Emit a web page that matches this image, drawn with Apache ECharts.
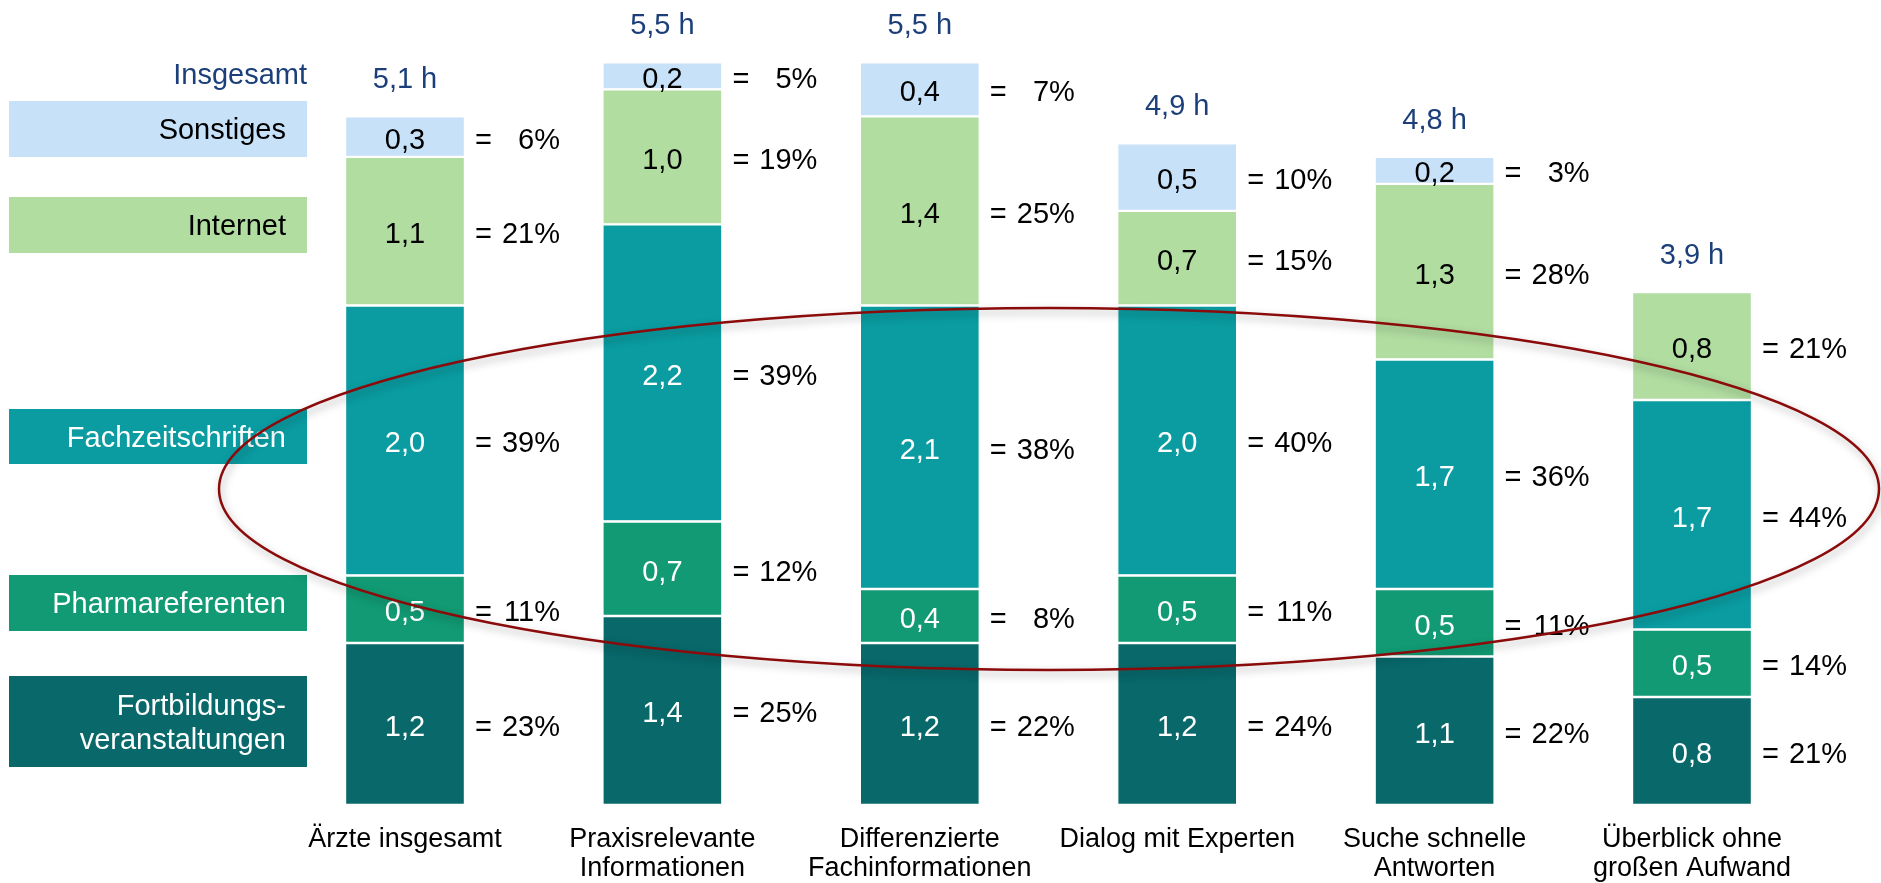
<!DOCTYPE html>
<html>
<head>
<meta charset="utf-8">
<script src="https://cdn.jsdelivr.net/npm/echarts@6/dist/echarts.min.js"></script>
<style>
html,body{margin:0;padding:0;background:#fff;}
#chart{width:1881px;height:883px;}
</style>
</head>
<body>
<div id="chart"></div>
<script>
// ---- data ----
var categories = ['Ärzte insgesamt', 'Praxisrelevante\nInformationen', 'Differenzierte\nFachinformationen', 'Dialog mit Experten', 'Suche schnelle\nAntworten', 'Überblick ohne\ngroßen Aufwand'];
var seriesNames = ['Fortbildungs-\nveranstaltungen', 'Pharmareferenten', 'Fachzeitschriften', 'Internet', 'Sonstiges'];
var fortbildung = [1.2, 1.4, 1.2, 1.2, 1.1, 0.8];
var pharma = [0.5, 0.7, 0.4, 0.5, 0.5, 0.5];
var fachzeitschriften = [2.0, 2.2, 2.1, 2.0, 1.7, 1.7];
var internet = [1.1, 1.0, 1.4, 0.7, 1.3, 0.8];
var sonstiges = [0.3, 0.2, 0.4, 0.5, 0.2, null];
var pctFortbildung = [23, 25, 22, 24, 22, 21];
var pctPharma = [11, 12, 8, 11, 11, 14];
var pctFachzeitschriften = [39, 39, 38, 40, 36, 44];
var pctInternet = [21, 19, 25, 15, 28, 21];
var pctSonstiges = [6, 5, 7, 10, 3, null];
var totals = ['5,1 h', '5,5 h', '5,5 h', '4,9 h', '4,8 h', '3,9 h'];
var totalLabel = 'Insgesamt';

// ---- styles ----
var colors = ['#08686A', '#119A73', '#0A9CA1', '#B1DDA1', '#C6E1F8'];
var valueTextColors = ['#ffffff', '#ffffff', '#ffffff', '#000000', '#000000'];
var FONT = "'Liberation Sans', Arial, sans-serif";
var BLUE = '#1C3F7A';

var valueSets = [fortbildung, pharma, fachzeitschriften, internet, sonstiges];
var pctSets = [pctFortbildung, pctPharma, pctFachzeitschriften, pctInternet, pctSonstiges];

function fmt(v) { return v.toFixed(1).replace('.', ','); }

var stackTops = categories.map(function (c, i) {
  var s = 0;
  valueSets.forEach(function (arr) { if (arr[i] != null) s += arr[i]; });
  return s;
});

var series = [];
valueSets.forEach(function (arr, k) {
  series.push({
    name: seriesNames[k],
    type: 'bar',
    stack: 'values',
    barWidth: 120,
    barGap: '-100%',
    data: arr,
    itemStyle: { color: colors[k], borderColor: '#ffffff', borderWidth: 1.2 },
    label: {
      show: true,
      position: 'inside',
      offset: [0, 4],
      fontFamily: FONT,
      fontSize: 29,
      color: valueTextColors[k],
      formatter: function (p) { return p.value == null ? '' : fmt(p.value); }
    },
    emphasis: { disabled: true },
    silent: true
  });
});
valueSets.forEach(function (arr, k) {
  var pcts = pctSets[k];
  series.push({
    name: seriesNames[k] + ' %',
    type: 'bar',
    stack: 'pct',
    barWidth: 120,
    barGap: '-100%',
    data: arr,
    itemStyle: { color: 'rgba(0,0,0,0)' },
    label: {
      show: true,
      position: 'right',
      distance: 10,
      offset: [0, 4],
      formatter: function (p) {
        var v = pcts[p.dataIndex];
        return v == null ? '' : '{e|=}{p|' + v + '%}';
      },
      rich: {
        e: { fontFamily: FONT, fontSize: 29, color: '#000', width: 17 },
        p: { fontFamily: FONT, fontSize: 29, color: '#000', width: 68, align: 'right' }
      }
    },
    emphasis: { disabled: true },
    silent: true,
    z: 3
  });
});
series.push({
  name: 'Insgesamt',
  type: 'scatter',
  data: stackTops,
  symbolSize: 1,
  itemStyle: { color: 'rgba(0,0,0,0)', opacity: 1 },
  label: {
    show: true,
    position: 'top',
    distance: 21,
    fontFamily: FONT,
    fontSize: 29,
    color: BLUE,
    opacity: 1,
    formatter: function (p) { return totals[p.dataIndex]; }
  },
  emphasis: { disabled: true },
  silent: true,
  z: 4
});

// legend boxes (drawn as graphics)
var legendBoxes = [
  { k: 4, y: 101, h: 56 },
  { k: 3, y: 197, h: 56 },
  { k: 2, y: 409, h: 55 },
  { k: 1, y: 575, h: 56 },
  { k: 0, y: 676, h: 91 }
];
var graphics = [{
  type: 'text', x: 307, y: 76,
  style: { text: totalLabel, fill: BLUE, font: '29px ' + FONT, textAlign: 'right', textVerticalAlign: 'middle' }
}];
legendBoxes.forEach(function (b) {
  graphics.push({ type: 'rect', shape: { x: 9, y: b.y, width: 298, height: b.h }, style: { fill: colors[b.k] }, z: 1 });
  graphics.push({
    type: 'text', x: 286, y: b.y + b.h / 2 + 2, z: 2,
    style: { text: seriesNames[b.k], fill: valueTextColors[b.k], font: '29px ' + FONT, textAlign: 'right', textVerticalAlign: 'middle', lineHeight: 34 }
  });
});
graphics.push({
  type: 'ellipse', z: 100,
  shape: { cx: 1049, cy: 489, rx: 830, ry: 181 },
  style: { fill: 'none', stroke: '#8B0A0A', lineWidth: 2.5, shadowBlur: 8, shadowColor: 'rgba(0,0,0,0.35)', shadowOffsetX: 2, shadowOffsetY: 4 }
});

var chart = echarts.init(document.getElementById('chart'), null, { renderer: 'canvas' });
chart.setOption({
  animation: false,
  backgroundColor: '#ffffff',
  grid: { left: 276.3, right: 60.3, top: 62.4, bottom: 76.6, containLabel: false },
  xAxis: {
    type: 'category',
    data: categories,
    axisLine: { show: false },
    axisTick: { show: false },
    axisLabel: { fontFamily: FONT, fontSize: 27, color: '#000', lineHeight: 29, margin: 20, interval: 0 }
  },
  yAxis: {
    type: 'value', min: 0, max: 5.5,
    show: false,
    splitLine: { show: false }
  },
  series: series,
  graphic: graphics
});
</script>
</body>
</html>
